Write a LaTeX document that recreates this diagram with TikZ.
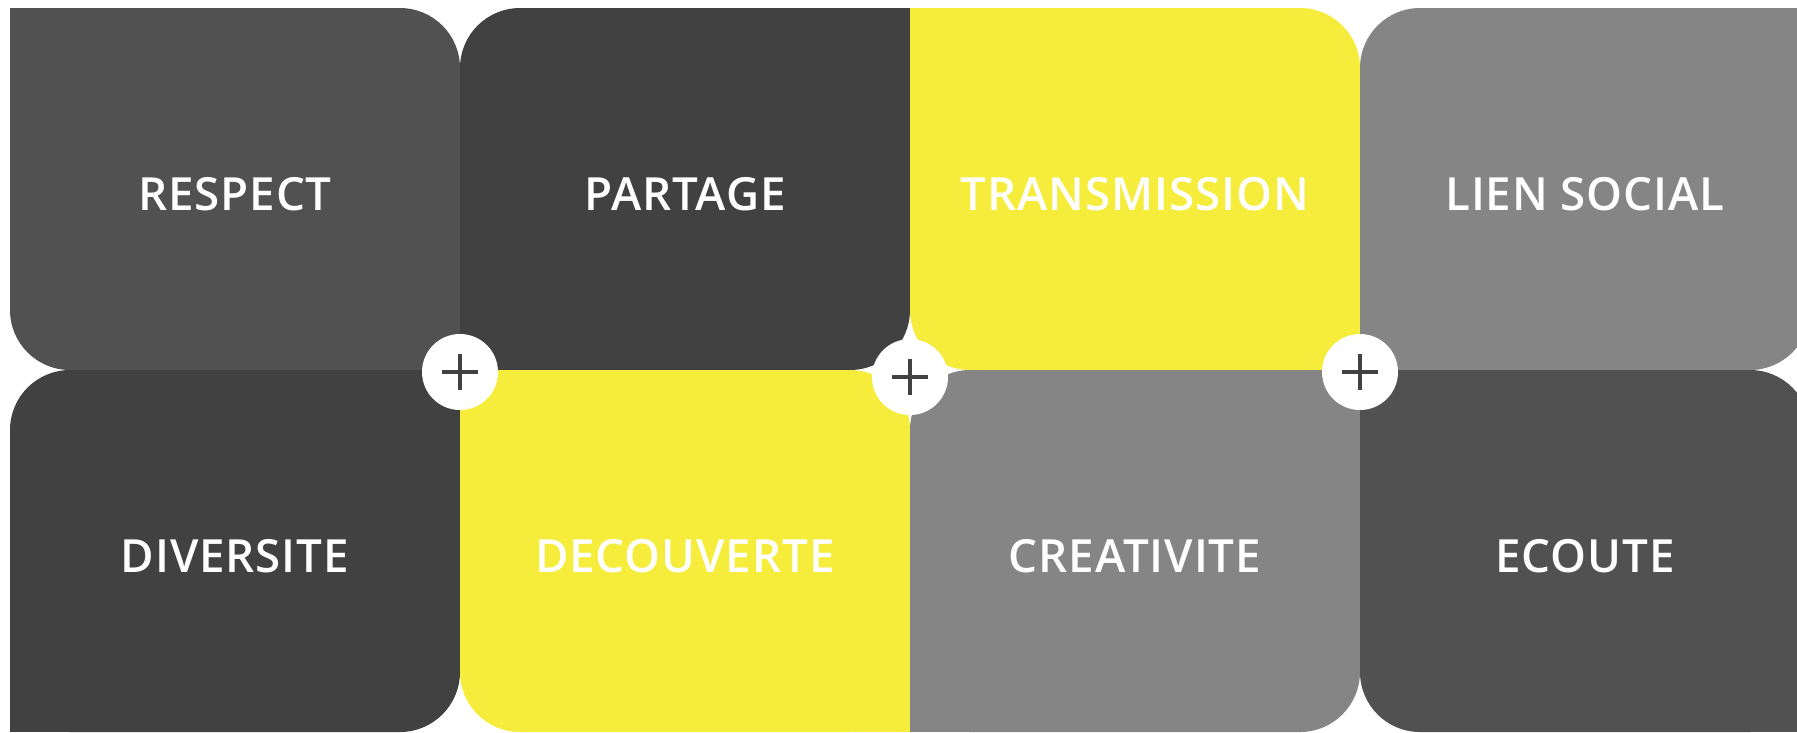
\documentclass[tikz,border=0pt]{standalone}
\usepackage{fontspec}
\setmainfont{Open Sans}
\IfFontExistsTF{Open Sans SemiBold}
  {\newfontfamily\tilefont{Open Sans SemiBold}[LetterSpace=2]}
  {\IfFontExistsTF{Open Sans Semibold}
    {\newfontfamily\tilefont{Open Sans Semibold}[LetterSpace=2]}
    {\newfontfamily\tilefont{Open Sans}[LetterSpace=3]}}
\usetikzlibrary{positioning}

\definecolor{greyA}{HTML}{515151}
\definecolor{greyB}{HTML}{414141}
\definecolor{greyC}{HTML}{858585}
\definecolor{jaune}{HTML}{F5EC3C}

\tikzset{
  tile/.style={rectangle, rounded corners=0.6cm, minimum width=4.5cm,
    minimum height=3.62cm, inner sep=0pt, outer sep=0pt, text=white,
    text height=0.42cm, text depth=0pt,
    font=\tilefont\fontsize{13}{15}\selectfont},
  plus/.style={circle, fill=white, minimum size=0.76cm, inner sep=0pt},
  plusline/.style={draw=greyB, line width=1pt},
}

% square off the two corners of a tile that are not rounded
\newcommand{\sqcorner}[3]{\fill[#1] (#2) rectangle ++#3;}

\begin{document}
\begin{tikzpicture}
  \clip (0,0) rectangle (17.97,-7.32);
  \useasboundingbox (0,0) rectangle (17.97,-7.32);

  % top row
  \node[tile, fill=greyA] (respect) at (2.35,-1.89) {RESPECT};
  \node[tile, fill=greyB, right=0pt of respect] (partage) {PARTAGE};
  \node[tile, fill=jaune, right=0pt of partage] (transmission) {TRANSMISSION};
  \node[tile, fill=greyC, right=0pt of transmission] (lien) {LIEN SOCIAL};
  % bottom row
  \node[tile, fill=greyB, below=0pt of respect] (diversite) {DIVERSITE};
  \node[tile, fill=jaune, below=0pt of partage] (decouverte) {DECOUVERTE};
  \node[tile, fill=greyC, below=0pt of transmission] (creativite) {CREATIVITE};
  \node[tile, fill=greyA, below=0pt of lien] (ecoute) {ECOUTE};

  \sqcorner{greyA}{respect.north west}{(0.6,-0.6)}
  \sqcorner{greyA}{respect.south east}{(-0.6,0.6)}
  \sqcorner{greyB}{partage.north east}{(-0.6,-0.6)}
  \sqcorner{greyB}{partage.south west}{(0.6,0.6)}
  \sqcorner{jaune}{transmission.north west}{(0.6,-0.6)}
  \sqcorner{jaune}{transmission.south east}{(-0.6,0.6)}
  \sqcorner{greyC}{lien.north east}{(-0.6,-0.6)}
  \sqcorner{greyC}{lien.south west}{(0.6,0.6)}

  \sqcorner{greyB}{diversite.north east}{(-0.6,-0.6)}
  \sqcorner{greyB}{diversite.south west}{(0.6,0.6)}
  \sqcorner{jaune}{decouverte.north west}{(0.6,-0.6)}
  \sqcorner{jaune}{decouverte.south east}{(-0.6,0.6)}
  \sqcorner{greyC}{creativite.north east}{(-0.6,-0.6)}
  \sqcorner{greyC}{creativite.south west}{(0.6,0.6)}
  \sqcorner{greyA}{ecoute.north west}{(0.6,-0.6)}
  \sqcorner{greyA}{ecoute.south east}{(-0.6,0.6)}

  % the plus signs
  \node[plus, yshift=-0.02cm] (p1) at (respect.south east) {};
  \node[plus, yshift=-0.07cm] (p2) at (partage.south east) {};
  \node[plus, yshift=-0.02cm] (p3) at (transmission.south east) {};
  \foreach \p in {p1,p2,p3} {
    \draw[plusline] ([xshift=-0.18cm]\p.center) -- ([xshift=0.18cm]\p.center);
    \draw[plusline] ([yshift=-0.18cm]\p.center) -- ([yshift=0.18cm]\p.center);
  }
\end{tikzpicture}
\end{document}
